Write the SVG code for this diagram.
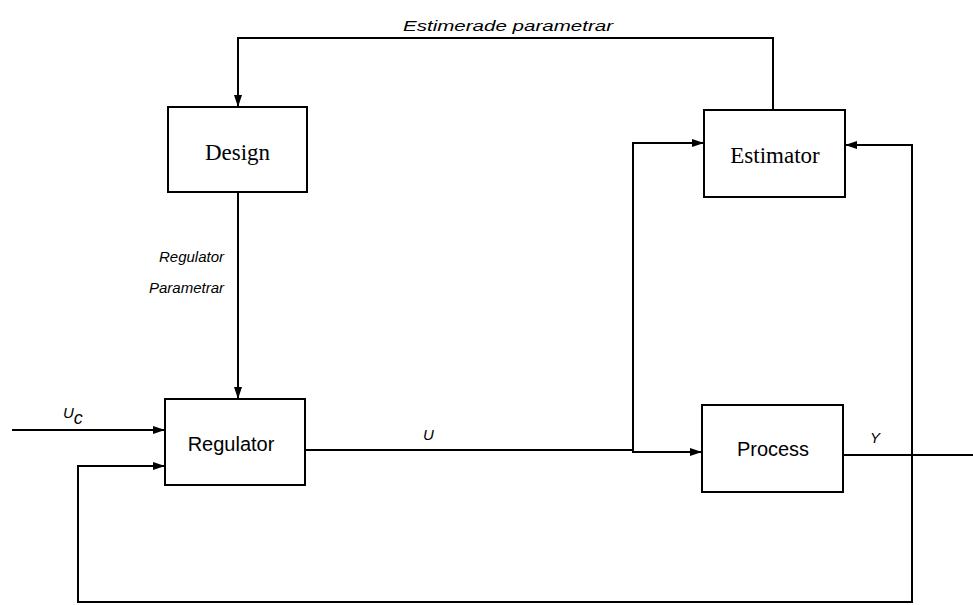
<svg xmlns="http://www.w3.org/2000/svg" width="973" height="605" viewBox="0 0 973 605">
<style>
.box{fill:#fff;stroke:#000;stroke-width:2}
.ln{fill:none;stroke:#000;stroke-width:2}
.serif{font-family:"Liberation Serif","Times New Roman",serif;font-size:23px;fill:#000}
.sans{font-family:"Liberation Sans",Arial,sans-serif;font-size:20px;fill:#000}
.lbl{font-family:"Liberation Sans",Arial,sans-serif;font-size:15px;font-style:italic;fill:#000}
</style>
<defs>
<marker id="ar" viewBox="0 0 12 8" refX="12" refY="4" markerWidth="12" markerHeight="8" markerUnits="userSpaceOnUse" orient="auto">
<path d="M0,0 L12,4 L0,8 Z" fill="#000"/>
</marker>
</defs>
<rect width="973" height="605" fill="#fff"/>
<g id="connectors">
<path class="ln" d="M773,110 V38 H238 V107" marker-end="url(#ar)"/>
<path class="ln" d="M238,192 V399" marker-end="url(#ar)"/>
<path class="ln" d="M12,430 H165" marker-end="url(#ar)"/>
<path class="ln" d="M305,450 H633 V452 H702" marker-end="url(#ar)"/>
<path class="ln" d="M633,452 V143 H704" marker-end="url(#ar)"/>
<path class="ln" d="M843,455 H973"/>
<path class="ln" d="M912,603 V145 H845" marker-end="url(#ar)"/>
<path class="ln" d="M912,602 H78 V466 H165" marker-end="url(#ar)"/>
</g>
<g id="design">
<rect class="box" x="168" y="107" width="139" height="85"/>
<text class="serif" x="237.5" y="160" text-anchor="middle">Design</text>
</g>
<g id="estimator">
<rect class="box" x="704" y="110" width="141" height="87"/>
<text class="serif" x="775" y="163" text-anchor="middle">Estimator</text>
</g>
<g id="regulator">
<rect class="box" x="165" y="399" width="140" height="86"/>
<text class="sans" x="231" y="451" text-anchor="middle">Regulator</text>
</g>
<g id="process">
<rect class="box" x="702" y="405" width="141" height="87"/>
<text class="sans" x="773" y="456" text-anchor="middle">Process</text>
</g>
<g id="labels">
<text class="lbl" x="403" y="31" font-size="17" textLength="210" lengthAdjust="spacingAndGlyphs">Estimerade parametrar</text>
<text class="lbl" x="224" y="262" text-anchor="end" font-size="16">Regulator</text>
<text class="lbl" x="224" y="293" text-anchor="end" font-size="16">Parametrar</text>
<text class="lbl" x="63" y="418" font-size="20">U<tspan font-size="18" dy="6">c</tspan></text>
<text class="lbl" x="423" y="440" font-size="20">U</text>
<text class="lbl" x="870" y="443" font-size="20">Y</text>
</g>
</svg>
